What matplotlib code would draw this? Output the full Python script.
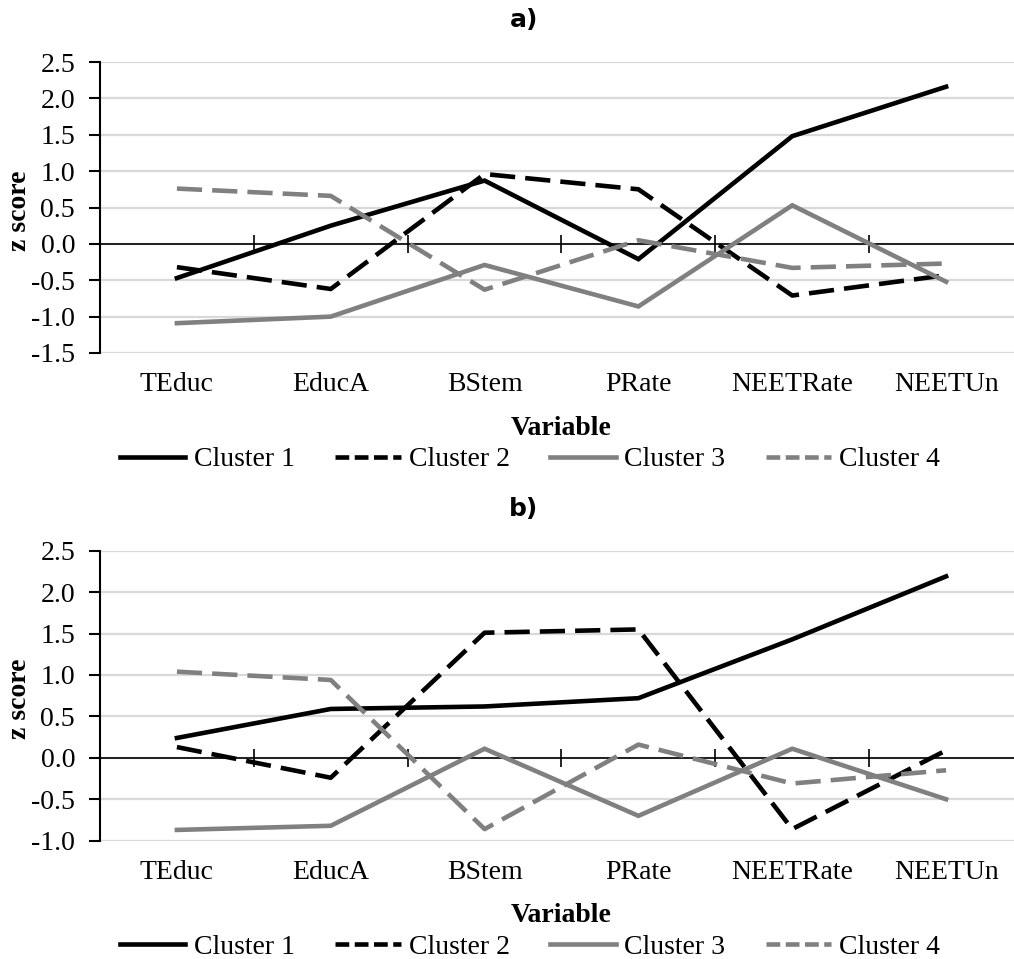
import matplotlib
matplotlib.use("Agg")
import matplotlib.pyplot as plt
import numpy as np

plt.rcParams['font.family'] = ['Liberation Serif', 'DejaVu Serif']

variables = ["TEduc", "EducA", "BStem", "PRate", "NEETRate", "NEETUn"]
cluster_names = ["Cluster 1", "Cluster 2", "Cluster 3", "Cluster 4"]

# panel a) z scores per cluster
a_cluster1 = [-0.47, 0.25, 0.87, -0.21, 1.48, 2.16]
a_cluster2 = [-0.32, -0.62, 0.96, 0.75, -0.71, -0.43]
a_cluster3 = [-1.09, -1.00, -0.29, -0.86, 0.53, -0.52]
a_cluster4 = [0.76, 0.66, -0.63, 0.05, -0.33, -0.27]

# panel b) z scores per cluster
b_cluster1 = [0.24, 0.59, 0.62, 0.72, 1.43, 2.19]
b_cluster2 = [0.13, -0.24, 1.51, 1.55, -0.86, 0.09]
b_cluster3 = [-0.87, -0.82, 0.11, -0.70, 0.11, -0.50]
b_cluster4 = [1.04, 0.94, -0.86, 0.16, -0.31, -0.15]

a_yticks = [-1.5, -1.0, -0.5, 0.0, 0.5, 1.0, 1.5, 2.0, 2.5]
b_yticks = [-1.0, -0.5, 0.0, 0.5, 1.0, 1.5, 2.0, 2.5]

# style per cluster: colour, dashed?
styles = [("#000000", False), ("#000000", True), ("#808080", False), ("#808080", True)]

W, H = 1014, 959
fig = plt.figure(figsize=(W / 100, H / 100), dpi=100)

FS = 20
LW = 3.3


def panel(rect, series, yticks, title):
    ax = fig.add_axes(rect)
    x = np.arange(len(variables))
    for vals, name, (col, dashed) in zip(series, cluster_names, styles):
        ln, = ax.plot(x, vals, color=col, lw=LW, label=name, solid_joinstyle='miter')
        if dashed:
            ln.set_dashes((5.5, 2.2))
    ax.set_xlim(-0.5, len(variables) - 0.5)
    ax.set_ylim(yticks[0], yticks[-1])
    ax.set_yticks(yticks)
    ax.set_yticklabels([f"{t:.1f}" for t in yticks])
    ax.set_xticks(x)
    ax.set_xticklabels(variables)
    ax.tick_params(axis='x', length=0, pad=14, labelsize=FS)
    ax.tick_params(axis='y', direction='out', length=8, width=1.5, pad=10, labelsize=FS)
    ax.grid(axis='y', color='#d9d9d9', lw=1.6, zorder=0)
    ax.set_axisbelow(True)
    for s in ['top', 'right', 'bottom']:
        ax.spines[s].set_visible(False)
    ax.spines['left'].set_linewidth(1.5)
    # horizontal category axis at zero with cross ticks between categories
    ax.axhline(0, color='black', lw=1.2, zorder=1.5)
    bounds = np.arange(0.5, len(variables) - 0.5)
    ax.plot(bounds, np.zeros_like(bounds), ls='none', marker='|', ms=13,
            mew=1.2, color='black', zorder=1.5)
    ax.text(-0.0867, 0.49, "z score", transform=ax.transAxes, rotation=90,
            ha='center', va='center', fontsize=FS, fontweight='bold')
    ax.text(0.5, -0.258, "Variable", transform=ax.transAxes, ha='center',
            va='center', fontsize=FS, fontweight='bold')
    ax.text(0.459, 1.145, title, transform=ax.transAxes, ha='center', va='center',
            fontsize=18, fontweight='bold', family=['DejaVu Sans'])
    leg = ax.legend(loc='center', bbox_to_anchor=(0.466, -0.366), ncol=4, frameon=False,
                    fontsize=FS, handlelength=2.35, handletextpad=0.3, columnspacing=1.46,
                    borderpad=0)
    for hl, (col, dashed) in zip(leg.get_lines(), styles):
        if dashed:
            hl.set_dashes((3.0, 1.2))
    return ax


left = 100 / W
width = (1023 - 100) / W
panel([left, 1 - 353 / H, width, (353 - 62) / H],
      [a_cluster1, a_cluster2, a_cluster3, a_cluster4], a_yticks, "a)")
panel([left, 1 - 840.7 / H, width, (840.7 - 550.7) / H],
      [b_cluster1, b_cluster2, b_cluster3, b_cluster4], b_yticks, "b)")

fig.savefig("out.png", dpi=100)
